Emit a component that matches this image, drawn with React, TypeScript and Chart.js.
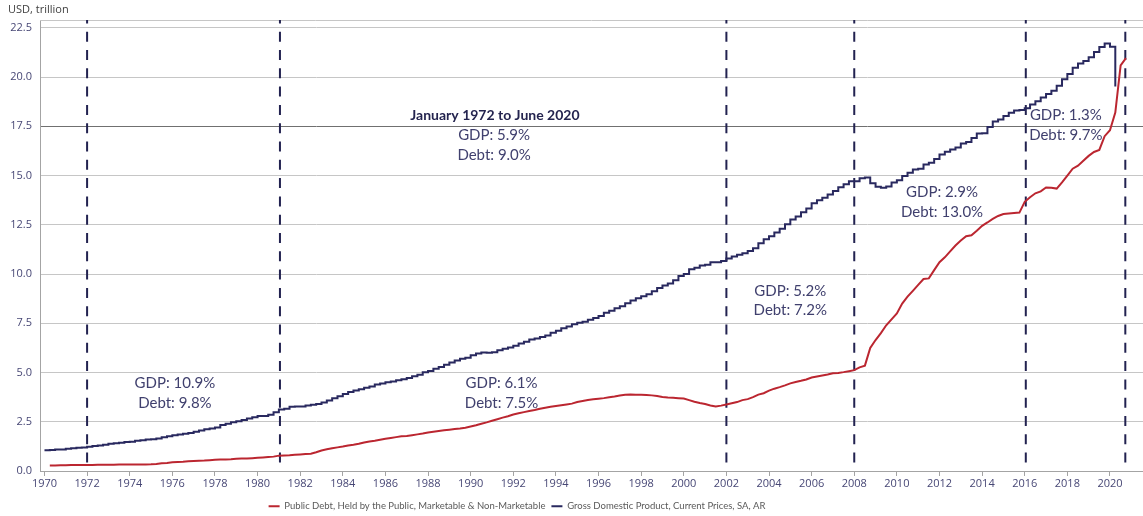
import React, { useEffect, useRef } from "react";
import { Chart, registerables } from "chart.js";

Chart.register(...registerables);

// ---------- DATA ----------
const GDP_START = 1970; // first quarter plotted (1970 Q1)
// Gross Domestic Product, current prices, SA, AR (USD trillion), quarterly from 1970 Q1
const gdpQuarterly: number[] = [
  1.051, 1.067, 1.086, 1.089,
  1.135, 1.157, 1.178, 1.194,
  1.231, 1.266, 1.291, 1.329,
  1.378, 1.414, 1.434, 1.476,
  1.491, 1.53, 1.56, 1.6,
  1.616, 1.652, 1.71, 1.762,
  1.821, 1.852, 1.887, 1.934,
  1.989, 2.056, 2.119, 2.164,
  2.203, 2.332, 2.395, 2.477,
  2.527, 2.591, 2.668, 2.724,
  2.79, 2.797, 2.857, 2.986,
  3.124, 3.163, 3.261, 3.281,
  3.274, 3.332, 3.366, 3.403,
  3.473, 3.579, 3.689, 3.795,
  3.908, 4.01, 4.084, 4.149,
  4.23, 4.295, 4.387, 4.444,
  4.508, 4.545, 4.608, 4.658,
  4.722, 4.806, 4.885, 5.008,
  5.073, 5.19, 5.283, 5.4,
  5.511, 5.613, 5.695, 5.747,
  5.873, 5.96, 6.015, 6.005,
  6.035, 6.127, 6.206, 6.265,
  6.363, 6.471, 6.567, 6.681,
  6.73, 6.809, 6.882, 7.014,
  7.116, 7.247, 7.331, 7.455,
  7.522, 7.581, 7.683, 7.773,
  7.869, 8.033, 8.131, 8.26,
  8.363, 8.519, 8.663, 8.766,
  8.867, 8.97, 9.121, 9.294,
  9.417, 9.524, 9.682, 9.899,
  10.002, 10.248, 10.318, 10.436,
  10.47, 10.599, 10.598, 10.661,
  10.784, 10.888, 10.984, 11.061,
  11.174, 11.313, 11.567, 11.772,
  11.923, 12.113, 12.305, 12.527,
  12.767, 12.923, 13.143, 13.324,
  13.599, 13.753, 13.87, 14.04,
  14.216, 14.402, 14.564, 14.715,
  14.707, 14.866, 14.899, 14.608,
  14.431, 14.381, 14.449, 14.651,
  14.765, 14.98, 15.142, 15.31,
  15.351, 15.558, 15.648, 15.842,
  16.069, 16.207, 16.32, 16.42,
  16.629, 16.7, 16.911, 17.133,
  17.144, 17.463, 17.743, 17.853,
  18.021, 18.194, 18.307, 18.332,
  18.425, 18.612, 18.776, 18.968,
  19.148, 19.305, 19.562, 19.895,
  20.156, 20.47, 20.687, 20.819,
  21.013, 21.272, 21.532, 21.707,
  21.539, 19.52,
];

const DEBT_START = 1970.25; // first quarter plotted (1970 Q2)
// Public debt held by the public, marketable & non-marketable (USD trillion), quarterly from 1970 Q2
const debtQuarterly: number[] = [
  0.28, 0.28, 0.29,
  0.29, 0.3, 0.3, 0.31,
  0.31, 0.31, 0.32, 0.32,
  0.32, 0.32, 0.33, 0.33,
  0.33, 0.33, 0.33, 0.33,
  0.34, 0.36, 0.39, 0.41,
  0.44, 0.46, 0.47, 0.49,
  0.51, 0.52, 0.53, 0.55,
  0.57, 0.58, 0.59, 0.6,
  0.62, 0.63, 0.63, 0.65,
  0.67, 0.69, 0.71, 0.73,
  0.78, 0.79, 0.8, 0.82,
  0.84, 0.86, 0.88, 0.95,
  1.04, 1.1, 1.15, 1.2,
  1.24, 1.29, 1.33, 1.38,
  1.45, 1.5, 1.54, 1.59,
  1.64, 1.68, 1.72, 1.76,
  1.78, 1.82, 1.86, 1.9,
  1.95, 1.99, 2.03, 2.07,
  2.1, 2.13, 2.16, 2.2,
  2.26, 2.32, 2.4, 2.47,
  2.55, 2.63, 2.71, 2.78,
  2.87, 2.93, 2.99, 3.05,
  3.1, 3.16, 3.21, 3.26,
  3.3, 3.34, 3.38, 3.42,
  3.5, 3.55, 3.6, 3.64,
  3.67, 3.7, 3.74, 3.78,
  3.83, 3.87, 3.88, 3.87,
  3.87, 3.86, 3.84, 3.81,
  3.76, 3.73, 3.72, 3.7,
  3.68, 3.6, 3.52, 3.45,
  3.4, 3.33, 3.27, 3.32,
  3.38, 3.44, 3.5, 3.6,
  3.65, 3.75, 3.88, 3.95,
  4.08, 4.18, 4.26, 4.35,
  4.45, 4.52, 4.58, 4.65,
  4.75, 4.8, 4.85, 4.9,
  4.96, 4.98, 5.02, 5.07,
  5.12, 5.26, 5.35, 6.25,
  6.65, 7.0, 7.4, 7.7,
  8.0, 8.5, 8.85, 9.15,
  9.45, 9.75, 9.78, 10.2,
  10.6, 10.85, 11.15, 11.45,
  11.7, 11.92, 11.97, 12.2,
  12.45, 12.62, 12.8, 12.95,
  13.05, 13.08, 13.1, 13.12,
  13.67, 13.9, 14.1, 14.2,
  14.4, 14.38, 14.34, 14.65,
  15.0, 15.35, 15.5, 15.75,
  16.0, 16.2, 16.3, 17.0,
  17.3, 18.2, 20.6, 20.96,
];

const seriesLabels = [
  "Public Debt, Held by the Public, Marketable & Non-Marketable",
  "Gross Domestic Product, Current Prices, SA, AR",
];

const xTickYears: number[] = [
  1970, 1972, 1974, 1976, 1978, 1980, 1982, 1984, 1986, 1988, 1990, 1992, 1994,
  1996, 1998, 2000, 2002, 2004, 2006, 2008, 2010, 2012, 2014, 2016, 2018, 2020,
];
const yTickValues: number[] = [0, 2.5, 5, 7.5, 10, 12.5, 15, 17.5, 20, 22.5];

// period boundaries (decimal years)
const periodBoundaries: number[] = [1972.0, 1981.05, 2002.0, 2008.0, 2016.05, 2020.72];

// annotation texts, anchored in data units (year, trillion)
const annotationTexts = [
  { year: 1976.12, value: 4.46, text: "GDP: 10.9%" },
  { year: 1976.12, value: 3.45, text: "Debt: 9.8%" },
  { year: 1991.14, value: 18.07, text: "January 1972 to June 2020", bold: true },
  { year: 1991.1, value: 17.06, text: "GDP: 5.9%" },
  { year: 1991.1, value: 16.04, text: "Debt: 9.0%" },
  { year: 1991.45, value: 4.48, text: "GDP: 6.1%" },
  { year: 1991.45, value: 3.45, text: "Debt: 7.5%" },
  { year: 2005.0, value: 9.14, text: "GDP: 5.2%" },
  { year: 2005.0, value: 8.16, text: "Debt: 7.2%" },
  { year: 2012.12, value: 14.14, text: "GDP: 2.9%" },
  { year: 2012.12, value: 13.13, text: "Debt: 13.0%" },
  { year: 2017.93, value: 18.07, text: "GDP: 1.3%" },
  { year: 2017.93, value: 17.06, text: "Debt: 9.7%" },
];

const unitLabel = "USD, trillion";

// ---------- STYLE ----------
const DEBT_COLOR = "#bb2630";
const GDP_COLOR = "#29295f";
const DASH_COLOR = "#222250";
const TICK_COLOR = "#474775";
const GRID_COLOR = "#c6c6c6";
const GRID_DARK = "#707070";
const AXIS_COLOR = "#a4a4a4";
const ANNOT_COLOR = "#40406e";
const TITLE_COLOR = "#24244f";
const TICK_FONT = "'Open Sans', sans-serif";
const ANNOT_FONT = "Lato, 'Open Sans', sans-serif";

export default function App() {
  const canvasRef = useRef<HTMLCanvasElement | null>(null);

  useEffect(() => {
    const canvas = canvasRef.current;
    if (!canvas) return;

    const debtPoints = debtQuarterly.map((v, i) => ({ x: DEBT_START + i / 4, y: v }));
    const gdpPoints = gdpQuarterly.map((v, i) => ({ x: GDP_START + i / 4, y: v }));

    const overlayPlugin = {
      id: "overlay",
      afterLayout(chart: any) {
        const lg = chart.legend;
        if (lg) {
          lg.left -= 54.5;
          lg.right -= 54.5;
          lg.top += 5;
          lg.bottom += 5;
        }
      },
      beforeDatasetsDraw(chart: any) {
        const { ctx, chartArea, scales } = chart;
        ctx.save();
        // top frame line
        ctx.strokeStyle = GRID_COLOR;
        ctx.lineWidth = 1;
        ctx.beginPath();
        ctx.moveTo(chartArea.left, chartArea.top + 0.5);
        ctx.lineTo(chartArea.right, chartArea.top + 0.5);
        ctx.stroke();
        // dashed period boundaries
        ctx.strokeStyle = DASH_COLOR;
        ctx.lineWidth = 2;
        ctx.setLineDash([10, 8.3]);
        ctx.lineDashOffset = 6.6;
        periodBoundaries.forEach((yr) => {
          const x = scales.x.getPixelForValue(yr);
          ctx.beginPath();
          ctx.moveTo(x, chartArea.top);
          ctx.lineTo(x, chartArea.bottom);
          ctx.stroke();
        });
        ctx.restore();
      },
      afterDatasetsDraw(chart: any) {
        const { ctx, chartArea, scales } = chart;
        ctx.save();
        ctx.textAlign = "center";
        ctx.textBaseline = "middle";
        annotationTexts.forEach((a: any) => {
          ctx.font = a.bold ? `bold 14px ${ANNOT_FONT}` : `15px ${ANNOT_FONT}`;
          ctx.fillStyle = a.bold ? TITLE_COLOR : ANNOT_COLOR;
          ctx.fillText(a.text, scales.x.getPixelForValue(a.year), scales.y.getPixelForValue(a.value));
        });
        // unit label
        ctx.textAlign = "left";
        ctx.font = `11px ${TICK_FONT}`;
        ctx.fillStyle = "#404040";
        ctx.fillText(unitLabel, chartArea.left - 32, chartArea.top - 10);
        ctx.restore();
      },
    };

    const chart = new Chart(canvas, {
      type: "line",
      data: {
        datasets: [
          {
            label: seriesLabels[0],
            data: debtPoints,
            borderColor: DEBT_COLOR,
            backgroundColor: DEBT_COLOR,
            borderWidth: 2,
            pointRadius: 0,
            tension: 0,
          },
          {
            label: seriesLabels[1],
            data: gdpPoints,
            borderColor: GDP_COLOR,
            backgroundColor: GDP_COLOR,
            borderWidth: 2,
            pointRadius: 0,
            stepped: "before",
          },
        ],
      },
      options: {
        responsive: false,
        animation: false,
        events: [],
        layout: { padding: { top: 20, left: 0, right: 0, bottom: 0 } },
        plugins: {
          tooltip: { enabled: false },
          legend: {
            position: "bottom",
            labels: {
              boxWidth: 11,
              boxHeight: 2,
              padding: 6,
              color: "#5a5a5a",
              font: { family: ANNOT_FONT, size: 9.5 },
              generateLabels: (chart: any) =>
                chart.data.datasets.map((ds: any, i: number) => ({
                  text: ds.label,
                  fillStyle: ds.borderColor,
                  strokeStyle: ds.borderColor,
                  lineWidth: 0,
                  hidden: false,
                  datasetIndex: i,
                  fontColor: "#5a5a5a",
                })),
            },
          },
        },
        scales: {
          x: {
            type: "linear",
            min: 1969.79,
            max: 2021.55,
            afterBuildTicks: (s: any) => {
              s.ticks = xTickYears.map((v) => ({ value: v }));
            },
            afterFit: (s: any) => {
              s.height = 19.5;
            },
            ticks: {
              autoSkip: false,
              maxRotation: 0,
              padding: 1,
              color: TICK_COLOR,
              font: { family: TICK_FONT, size: 11 },
              callback: (v: any) => String(v),
            },
            grid: { drawOnChartArea: false, drawTicks: true, tickLength: 5, color: AXIS_COLOR },
            border: { color: AXIS_COLOR },
          },
          y: {
            min: 0,
            max: 22.9,
            afterBuildTicks: (s: any) => {
              s.ticks = yTickValues.map((v) => ({ value: v }));
            },
            afterFit: (s: any) => {
              s.width = 40;
            },
            ticks: {
              padding: 8,
              color: TICK_COLOR,
              font: { family: TICK_FONT, size: 11 },
              callback: (v: any) => Number(v).toFixed(1),
            },
            grid: {
              drawTicks: false,
              color: (c: any) => (c.tick && c.tick.value === 17.5 ? GRID_DARK : GRID_COLOR),
            },
            border: { color: AXIS_COLOR },
          },
        },
      },
      plugins: [overlayPlugin],
    } as any);

    return () => chart.destroy();
  }, []);

  return (
    <div style={{ position: "absolute", left: 0, top: 0, width: 1143, height: 516, background: "#fff" }}>
      <canvas ref={canvasRef} width={1143} height={516} style={{ display: "block" }} />
    </div>
  );
}
